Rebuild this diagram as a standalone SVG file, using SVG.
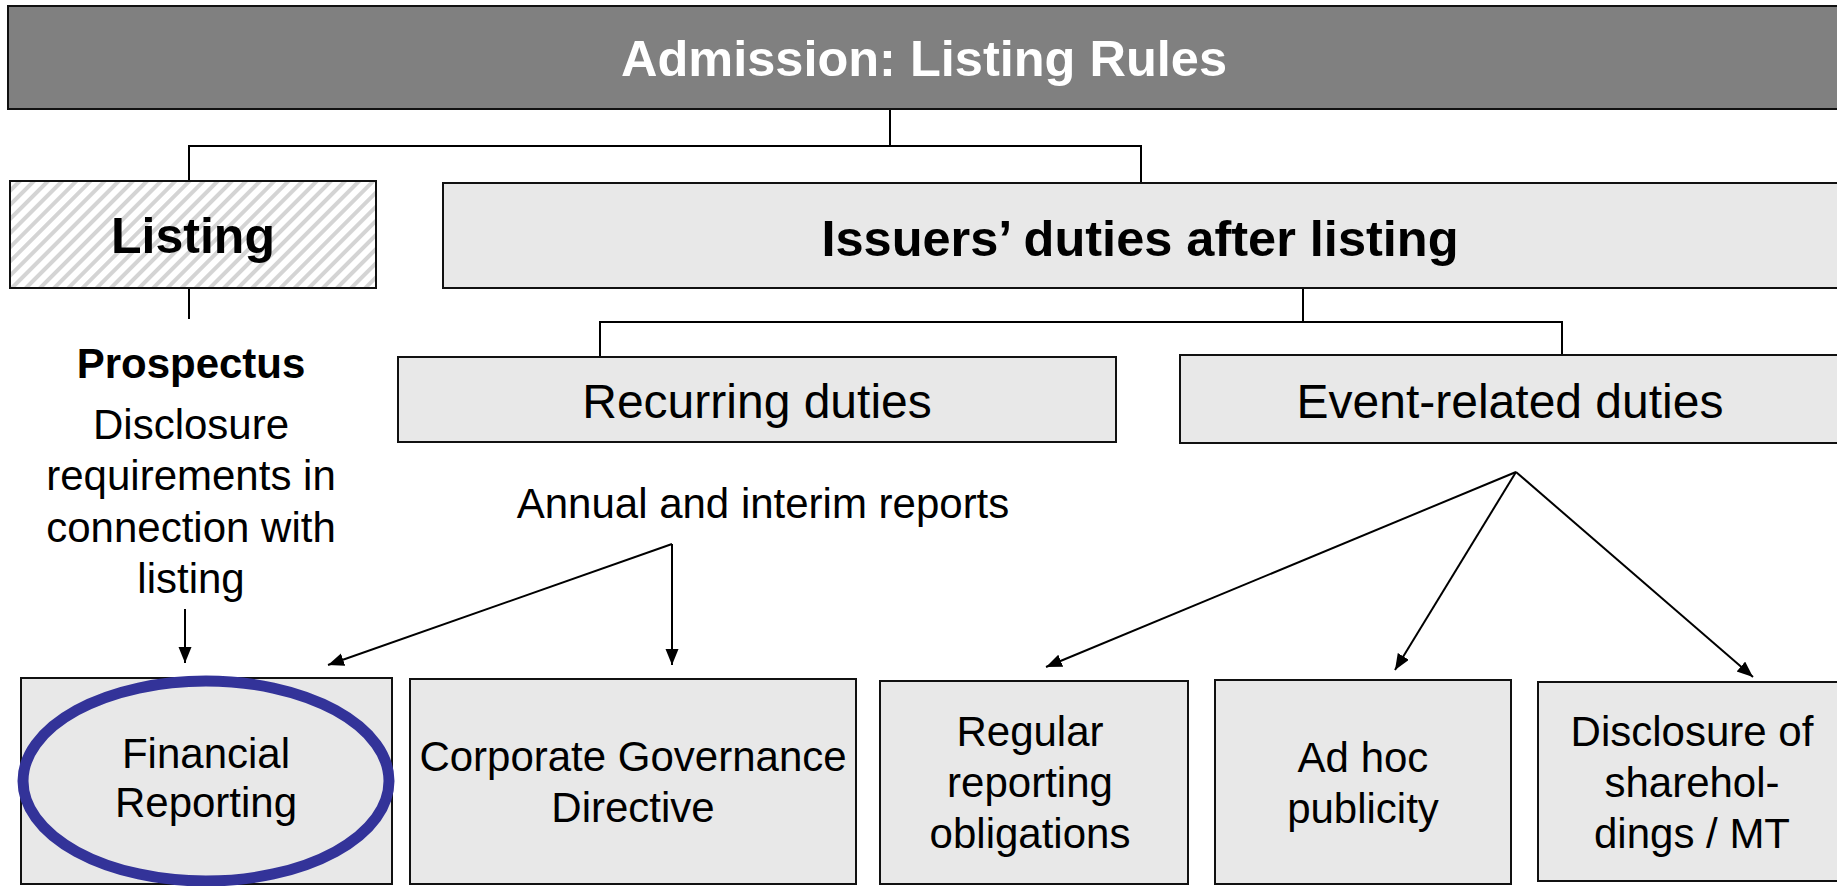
<svg xmlns="http://www.w3.org/2000/svg" width="1837" height="886" viewBox="0 0 1837 886">
<style>
  .box { fill: #e8e8e8; stroke: #111; stroke-width: 2; }
  .t { font-family: "Liberation Sans", Arial, sans-serif; fill: #000; text-anchor: middle; }
  .b { font-weight: bold; }
  .c { fill: none; stroke: #000; stroke-width: 2; }
  .a { fill: none; stroke: #000; stroke-width: 2; marker-end: url(#arr); }
</style>
<defs>
  <marker id="arr" markerUnits="userSpaceOnUse" markerWidth="17" markerHeight="14" refX="16" refY="6.5" orient="auto">
    <path d="M0,0 L16,6.5 L0,13 z" fill="#000"/>
  </marker>
  <pattern id="hatch" patternUnits="userSpaceOnUse" width="10" height="10" patternTransform="rotate(45)">
    <rect width="10" height="10" fill="#ffffff"/>
    <rect x="0" y="0" width="4" height="10" fill="#d4d4d4"/>
  </pattern>
</defs>
<rect width="1837" height="886" fill="#ffffff"/>

<g id="connectors">
  <polyline class="c" points="890,109 890,146"/>
  <polyline class="c" points="189,181 189,146 1141,146 1141,183"/>
  <polyline class="c" points="189,288 189,319"/>
  <polyline class="c" points="1303,288 1303,322"/>
  <polyline class="c" points="600,357 600,322 1562,322 1562,354"/>
  <line class="a" x1="185" y1="609" x2="185" y2="663"/>
  <line class="a" x1="672" y1="544" x2="328" y2="665"/>
  <line class="a" x1="672" y1="544" x2="672" y2="665"/>
  <line class="a" x1="1516" y1="472" x2="1046" y2="667"/>
  <line class="a" x1="1516" y1="472" x2="1395" y2="670"/>
  <line class="a" x1="1516" y1="472" x2="1753" y2="677"/>
</g>

<g id="admission">
  <rect x="8" y="6" width="1840" height="103" fill="#808080" stroke="#111" stroke-width="2"/>
  <text class="t b" x="924" y="76" font-size="50.5" style="fill:#fff">Admission: Listing Rules</text>
</g>

<g id="listing">
  <rect x="10" y="181" width="366" height="107" fill="url(#hatch)" stroke="#111" stroke-width="2"/>
  <text class="t b" x="193" y="253" font-size="50">Listing</text>
</g>

<g id="issuers">
  <rect class="box" x="443" y="183" width="1400" height="105"/>
  <text class="t b" x="1140" y="256" font-size="50.5">Issuers’ duties after listing</text>
</g>

<g id="prospectus">
  <text class="t b" x="191" y="378" font-size="42">Prospectus</text>
  <text class="t" x="191" y="439" font-size="42">Disclosure</text>
  <text class="t" x="191" y="490" font-size="42">requirements in</text>
  <text class="t" x="191" y="542" font-size="42">connection with</text>
  <text class="t" x="191" y="593" font-size="42">listing</text>
</g>

<g id="recurring">
  <rect class="box" x="398" y="357" width="718" height="85"/>
  <text class="t" x="757" y="418" font-size="48">Recurring duties</text>
</g>

<g id="event">
  <rect class="box" x="1180" y="355" width="670" height="88"/>
  <text class="t" x="1510" y="418" font-size="48">Event-related duties</text>
</g>

<g id="annual">
  <text class="t" x="763" y="518" font-size="42">Annual and interim reports</text>
</g>

<g id="financial">
  <rect class="box" x="21" y="678" width="371" height="206"/>
  <ellipse cx="206" cy="781" rx="183" ry="100" fill="none" stroke="#333399" stroke-width="11"/>
  <text class="t" x="206" y="768" font-size="42">Financial</text>
  <text class="t" x="206" y="817" font-size="42">Reporting</text>
</g>

<g id="corporate">
  <rect class="box" x="410" y="679" width="446" height="205"/>
  <text class="t" x="633" y="771" font-size="42">Corporate Governance</text>
  <text class="t" x="633" y="822" font-size="42">Directive</text>
</g>

<g id="regular">
  <rect class="box" x="880" y="681" width="308" height="203"/>
  <text class="t" x="1030" y="746" font-size="42">Regular</text>
  <text class="t" x="1030" y="797" font-size="42">reporting</text>
  <text class="t" x="1030" y="848" font-size="42">obligations</text>
</g>

<g id="adhoc">
  <rect class="box" x="1215" y="680" width="296" height="204"/>
  <text class="t" x="1363" y="772" font-size="42">Ad hoc</text>
  <text class="t" x="1363" y="823" font-size="42">publicity</text>
</g>

<g id="shareholdings">
  <rect class="box" x="1538" y="682" width="310" height="199"/>
  <text class="t" x="1692" y="746" font-size="42">Disclosure of</text>
  <text class="t" x="1692" y="797" font-size="42">sharehol-</text>
  <text class="t" x="1692" y="848" font-size="42">dings / MT</text>
</g>
</svg>
